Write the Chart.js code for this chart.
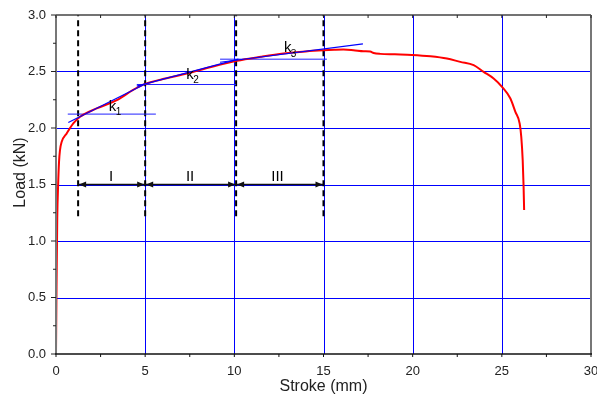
<!DOCTYPE html>
<html>
<head>
<meta charset="utf-8">
<script src="https://cdn.jsdelivr.net/npm/chart.js@4.4.1/dist/chart.umd.min.js"></script>
<style>
html,body{margin:0;padding:0;background:#fff;}
#c{display:block;width:597px;height:398px;}
</style>
</head>
<body>
<canvas id="c" width="597" height="398"></canvas>
<script>
// ---- data ----
const strokeMm = [0, 0.03, 0.07, 0.12, 0.17, 0.22, 0.32, 0.6, 0.97, 1.35, 2.28, 3.41, 4.3, 5.0, 6.2, 7.33, 8.7, 10.14, 11.5, 12.76, 14.0, 15.0, 15.6, 16.12, 16.68, 17.25, 17.62, 17.81, 18.18, 19.0, 19.96, 21.0, 21.92, 22.67, 23.42, 23.98, 24.54, 25.01, 25.48, 25.76, 26.0, 26.09, 26.17, 26.22, 26.25];
const loadKN   = [0, 0.6, 1.2, 1.5, 1.7, 1.8, 1.878, 1.952, 2.04, 2.099, 2.173, 2.246, 2.335, 2.39, 2.44, 2.482, 2.54, 2.594, 2.63, 2.659, 2.678, 2.688, 2.692, 2.694, 2.688, 2.679, 2.676, 2.664, 2.656, 2.652, 2.647, 2.635, 2.615, 2.585, 2.556, 2.497, 2.438, 2.364, 2.261, 2.143, 2.04, 1.922, 1.716, 1.481, 1.275];

const tangentK1X = [0.69, 5.0],  tangentK1Y = [2.049, 2.39];
const tangentK2X = [4.53, 10.23], tangentK2Y = [2.37, 2.609];
const tangentK3X = [9.2, 17.21], tangentK3Y = [2.582, 2.744];

const levelK1X = [0.66, 5.6],  levelK1Y = 2.123;
const levelK2X = [4.53, 10.1], levelK2Y = 2.385;
const levelK3X = [9.2, 15.19], levelK3Y = 2.609;

const stageBoundsX = [1.24, 5.0, 10.1, 15.0];
const stageLineY = [1.22, 3.0];
const stageArrowY = 1.5;
const stageNames = ['I', 'II', 'III'];
const stageLabelX = [3.09, 7.52, 12.42];
const stageLabelY = 1.57;

const slopeNames = ['1', '2', '3'];
const slopeLabelX = [3.17, 7.52, 12.99];
const slopeLabelY = [2.19, 2.472, 2.706];

const xTickValues = [0, 5, 10, 15, 20, 25, 30];
const xMinorTicks = [2.5, 7.5, 12.5, 17.5, 22.5, 27.5];
const yTickValues = [0, 0.5, 1.0, 1.5, 2.0, 2.5, 3.0];
const yMinorTicks = [0.25, 0.75, 1.25, 1.75, 2.25, 2.75];

const xTitle = 'Stroke (mm)';
const yTitle = 'Load (kN)';

const FONT = 'Arial, "Liberation Sans", sans-serif';

// ---- build datasets ----
const pts = (xs, ys) => xs.map((x, i) => ({x, y: Array.isArray(ys) ? ys[i] : ys}));
const seg = (data, color, width, dash) => ({
  data, borderColor: color, borderWidth: width, borderDash: dash || [],
  showLine: true, pointRadius: 0, fill: false, tension: 0
});

const datasets = [
  seg(pts(tangentK1X, tangentK1Y), '#0000ff', 1.2),
  seg(pts(tangentK2X, tangentK2Y), '#0000ff', 1.2),
  seg(pts(tangentK3X, tangentK3Y), '#0000ff', 1.2),
  Object.assign(seg(pts(strokeMm, loadKN), '#ff0000', 2), {cubicInterpolationMode: 'monotone'}),
  seg(pts(levelK1X, levelK1Y), '#2020ff', 1),
  seg(pts(levelK2X, levelK2Y), '#2020ff', 1),
  seg(pts(levelK3X, levelK3Y), '#2020ff', 1),
  seg(pts([stageBoundsX[0], stageBoundsX[stageBoundsX.length - 1]], stageArrowY), '#111111', 1.5)
];
stageBoundsX.forEach(x => datasets.push(seg(pts([x, x], stageLineY), '#000000', 2, [6, 4])));

// ---- background + blue grid ----
const bg = {
  id: 'bg',
  beforeDraw(chart) {
    const ctx = chart.ctx;
    ctx.save();
    ctx.fillStyle = '#ffffff';
    ctx.fillRect(0, 0, chart.width, chart.height);
    ctx.restore();
  },
  beforeDatasetsDraw(chart) {
    const {ctx, chartArea: a, scales: {x, y}} = chart;
    ctx.save();
    ctx.strokeStyle = '#0000ff';
    ctx.lineWidth = 1;
    ctx.setLineDash([]);
    xTickValues.slice(1, -1).forEach(v => {
      const px = Math.round(x.getPixelForValue(v)) + 0.5;
      ctx.beginPath(); ctx.moveTo(px, a.top); ctx.lineTo(px, a.bottom); ctx.stroke();
    });
    yTickValues.slice(1, -1).forEach(v => {
      const py = Math.round(y.getPixelForValue(v)) + 0.5;
      ctx.beginPath(); ctx.moveTo(a.left, py); ctx.lineTo(a.right, py); ctx.stroke();
    });
    ctx.restore();
  }
};

// ---- decorations plugin (ticks, frame, arrowheads, labels) ----
const deco = {
  id: 'deco',
  afterDatasetsDraw(chart) {
    const {ctx, chartArea: a, scales: {x, y}} = chart;
    ctx.save();
    ctx.setLineDash([]);
    // arrowheads
    ctx.fillStyle = '#111';
    const head = (px, py, dir) => {
      ctx.beginPath();
      ctx.moveTo(px, py);
      ctx.lineTo(px - dir * 7, py - 3);
      ctx.lineTo(px - dir * 7, py + 3);
      ctx.closePath();
      ctx.fill();
    };
    const ay = y.getPixelForValue(stageArrowY);
    for (let i = 0; i < stageBoundsX.length - 1; i++) {
      head(x.getPixelForValue(stageBoundsX[i]) + 1, ay, -1);
      head(x.getPixelForValue(stageBoundsX[i + 1]) - 1, ay, 1);
    }
    // labels
    ctx.fillStyle = '#000';
    ctx.textAlign = 'center';
    ctx.textBaseline = 'middle';
    ctx.font = '15px ' + FONT;
    stageNames.forEach((t, i) => ctx.fillText(t, x.getPixelForValue(stageLabelX[i]), y.getPixelForValue(stageLabelY)));
    slopeNames.forEach((t, i) => {
      const px = x.getPixelForValue(slopeLabelX[i]), py = y.getPixelForValue(slopeLabelY[i]);
      ctx.font = '15px ' + FONT;
      ctx.fillText('k', px, py);
      ctx.font = '10px ' + FONT;
      ctx.fillText(t, px + 6, py + 6);
    });
    // y axis title
    ctx.save();
    ctx.translate(21, (a.top + a.bottom) / 2 - 12);
    ctx.rotate(-Math.PI / 2);
    ctx.fillStyle = '#222';
    ctx.font = '16px ' + FONT;
    ctx.fillText(yTitle, 0, 0);
    ctx.restore();
    // frame
    const line = (x1, y1, x2, y2, c, w) => {
      ctx.strokeStyle = c; ctx.lineWidth = w;
      ctx.beginPath(); ctx.moveTo(x1, y1); ctx.lineTo(x2, y2); ctx.stroke();
    };
    line(a.left, a.top, a.right, a.top, '#444', 1.5);
    line(a.right, a.top, a.right, a.bottom, '#777', 2);
    line(a.left, a.top, a.left, a.bottom, '#777', 2);
    line(a.left - 1, a.bottom, a.right + 1, a.bottom, '#111', 1.5);
    // ticks
    xTickValues.concat(xMinorTicks).forEach(v => {
      const px = x.getPixelForValue(v);
      line(px, a.bottom, px, a.bottom + 3, '#111', 1);
      line(px, a.top, px, a.top + 3, '#222', 1);
    });
    yTickValues.forEach(v => {
      const py = y.getPixelForValue(v);
      line(a.left - 5, py, a.left, py, '#222', 1);
    });
    yMinorTicks.forEach(v => {
      const py = y.getPixelForValue(v);
      line(a.left - 3, py, a.left, py, '#222', 1);
    });
    ctx.restore();
  }
};

new Chart(document.getElementById('c'), {
  type: 'scatter',
  data: {datasets},
  options: {
    responsive: false,
    animation: false,
    events: [],
    layout: {padding: {left: 0, right: 6, top: 15, bottom: 0}},
    plugins: {legend: {display: false}, tooltip: {enabled: false}},
    scales: {
      x: {
        type: 'linear', min: 0, max: 30,
        afterFit(s) { s.height = 44; s.paddingLeft = 0; s.paddingRight = 0; },
        ticks: {stepSize: 5, padding: 10, maxRotation: 0, autoSkip: false, color: '#222', font: {size: 13, family: FONT}, callback: v => String(v)},
        grid: {display: false, drawTicks: false},
        border: {display: false},
        title: {display: true, text: xTitle, color: '#222', font: {size: 16, family: FONT}, padding: {top: 0, bottom: 2}}
      },
      y: {
        type: 'linear', min: 0, max: 3,
        afterFit(s) { s.width = 56; s.paddingTop = 0; s.paddingBottom = 0; },
        ticks: {stepSize: 0.5, padding: 10, color: '#222', font: {size: 13, family: FONT}, callback: v => Number(v).toFixed(1)},
        grid: {display: false, drawTicks: false},
        border: {display: false},
        title: {display: false}
      }
    }
  },
  plugins: [bg, deco]
});
</script>
</body>
</html>
